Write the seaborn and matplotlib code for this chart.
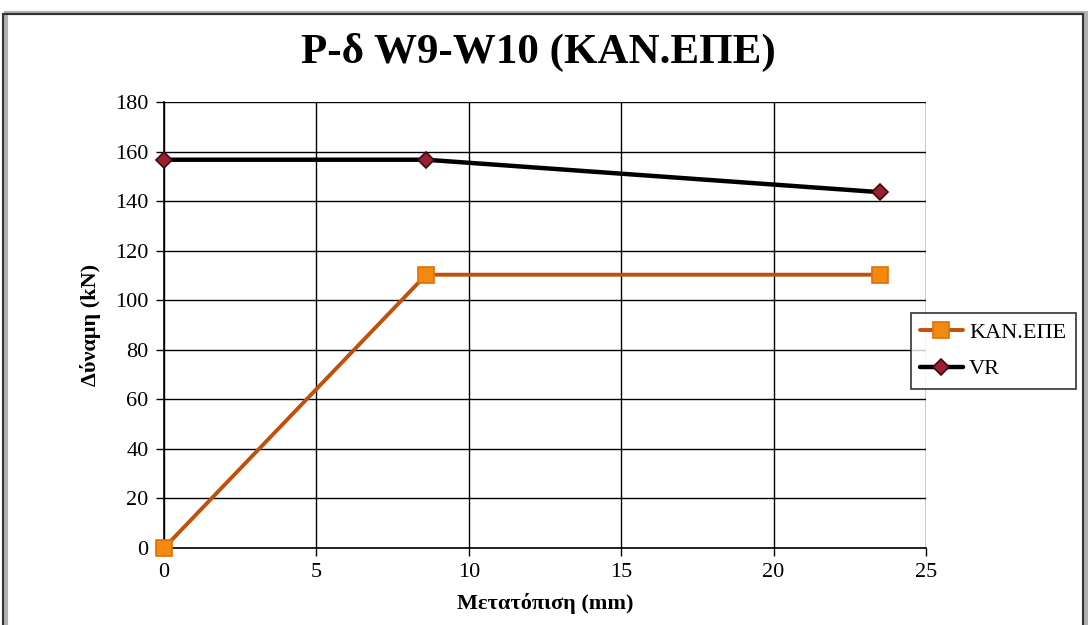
import matplotlib
matplotlib.use("Agg")
import matplotlib.pyplot as plt
import seaborn as sns
import pandas as pd
from matplotlib.patches import Rectangle

# Load–displacement data (mm, kN)
kan_x = [0.0, 8.6, 23.5]
kan_y = [0.0, 110.3, 110.3]
vr_x = [0.0, 8.6, 23.5]
vr_y = [156.7, 156.7, 143.6]
series_names = ["ΚΑΝ.ΕΠΕ", "VR"]

sns.set_theme(style="white")
plt.rcParams["font.family"] = ["Liberation Serif", "DejaVu Serif"]
plt.rcParams["text.color"] = "black"
plt.rcParams["axes.labelcolor"] = "black"

df = pd.concat([
    pd.DataFrame({"x": kan_x, "y": kan_y, "s": series_names[0]}),
    pd.DataFrame({"x": vr_x, "y": vr_y, "s": series_names[1]}),
])

fig = plt.figure(figsize=(10.88, 6.25), dpi=100)
ax = fig.add_axes([164 / 1088, 1 - 548 / 625, (926 - 164) / 1088, (548 - 102) / 625])

styles = {
    series_names[0]: dict(color="#C0500A", marker="s", markersize=11,
                          markerfacecolor="#F28A10", markeredgecolor="#E07008",
                          markeredgewidth=1.2, linewidth=2.8),
    series_names[1]: dict(color="black", marker="D", markersize=8,
                          markerfacecolor="#9B1F32", markeredgecolor="#3A0A10",
                          markeredgewidth=1.2, linewidth=3.2),
}
for name in series_names:
    sub = df[df["s"] == name]
    sns.lineplot(data=sub, x="x", y="y", ax=ax, label=name, sort=False,
                 estimator=None, clip_on=False, zorder=3, **styles[name])

ax.set_xlim(0, 25)
ax.set_ylim(0, 180)
ax.set_xticks(range(0, 26, 5))
ax.set_yticks(range(0, 181, 20))
ax.grid(True, color="black", linewidth=1.0)
for side in ["left", "bottom"]:
    ax.spines[side].set_color("black")
    ax.spines[side].set_linewidth(1.2)
for side in ["top", "right"]:
    ax.spines[side].set_visible(False)
ax.tick_params(axis="both", which="major", direction="out", length=6,
               width=1.0, color="black", labelsize=16, labelcolor="black",
               pad=5, bottom=True, left=True)

ax.set_xlabel("Μετατόπιση (mm)", fontsize=16, fontweight="bold", labelpad=8)
ax.set_ylabel("Δύναμη (kN)", fontsize=16, fontweight="bold", labelpad=10)
fig.text(538 / 1088, 1 - 52 / 625, "P-δ W9-W10 (ΚΑΝ.ΕΠΕ)", ha="center",
         va="center", fontsize=31, fontweight="bold", color="black")

leg = ax.legend(loc="center left", bbox_to_anchor=(911 / 1088, 1 - 351 / 625),
                bbox_transform=fig.transFigure, frameon=True, fancybox=False,
                edgecolor="black", fontsize=16, handlelength=1.9,
                borderpad=0.42, labelspacing=0.7, handletextpad=0.3,
                borderaxespad=0)
leg.get_frame().set_linewidth(1.2)
for t in leg.get_texts():
    t.set_color("black")

# Figure border with a soft shadow
fig.patches.append(Rectangle((6 / 1088, -0.02), 1080 / 1088, 1.0,
                             transform=fig.transFigure, fill=False,
                             edgecolor="#B0B0B0", linewidth=3))
fig.patches.append(Rectangle((3 / 1088, -0.02), 1080 / 1088, 1 - 1 / 625,
                             transform=fig.transFigure, fill=False,
                             edgecolor="#333333", linewidth=1.5))

fig.savefig("out.png", dpi=100, facecolor="white")
